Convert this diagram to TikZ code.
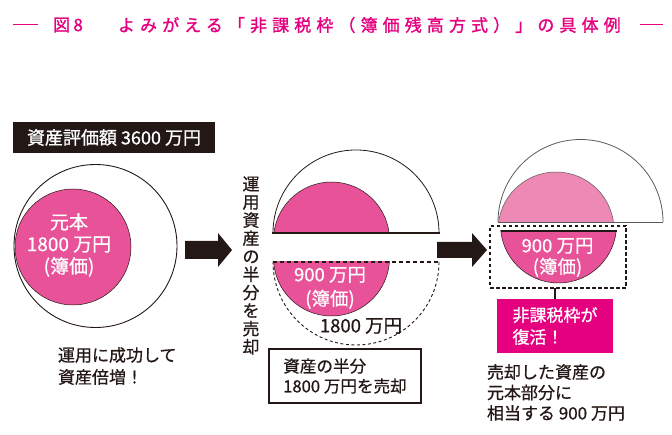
\documentclass[tikz,border=0pt]{standalone}
\usepackage{fontspec}
\setmainfont{Noto Sans CJK JP}[FakeBold=0.7]
\newfontfamily\titlefont{Noto Sans CJK JP}[LetterSpace=30,FakeBold=1.4]
\newfontfamily\figfont{Noto Sans CJK JP}[LetterSpace=20,FakeBold=1.4]
\newfontfamily\boxfont{Noto Sans CJK JP}[FakeBold=1.0]
\definecolor{mag}{HTML}{E4007F}
\definecolor{pk}{HTML}{E85298}
\definecolor{lpk}{HTML}{EE88B5}
\definecolor{ink}{HTML}{231815}
\definecolor{gry}{HTML}{5A5A5A}
\begin{document}
\begin{tikzpicture}[x=1pt,y=-1pt,
  every node/.style={inner sep=0pt, outer sep=0pt},
  lbl/.style={text=ink, align=left, font=\fontsize{17}{21}\selectfont},
  wlbl/.style={text=white, align=center},
  pinkseg/.style={fill=pk, draw=ink, line width=0.5pt},
  bigarrow/.style={fill=ink}]
\useasboundingbox (0,0) rectangle (672,435);

% title
\coordinate (dl1) at (13,25); \coordinate (dl2) at (38,25);
\coordinate (dr1) at (640,25); \coordinate (dr2) at (663,25);
\draw[mag, line width=1pt] (dl1) -- (dl2);
\draw[mag, line width=1pt] (dr1) -- (dr2);
\node[anchor=west, text=mag, font=\figfont\fontsize{17}{17}\selectfont] (fig) at (53,25) {図8};
\node[anchor=west, text=mag, font=\titlefont\fontsize{17}{17}\selectfont] (title) at (118,25) {よみがえる「非課税枠（簿価残高方式）」の具体例};

% panel 1
\node[fill=ink, text=white, minimum width=202pt, minimum height=31pt, font=\boxfont\fontsize{18}{18}\selectfont] (value) at (114,137.5) {資産評価額 3600 万円};
\draw[ink, line width=0.9pt] (95.5,246) circle[radius=81.5];
\filldraw[pinkseg] (73,247) circle[radius=58];
\node[wlbl, font=\fontsize{19}{22}\selectfont] (c1text) at (69,245) {元本\\1800 万円\\(簿価)};
\node[lbl, anchor=west, font=\fontsize{17}{22}\selectfont] (success) at (58,366) {運用に成功して\\資産倍増！};

% arrow 1
\fill[bigarrow] (185,241) -- (218,241) -- (218,233) -- (232,250) -- (218,267) -- (218,259) -- (185,259) -- cycle;

% vertical text
\node[text=ink, align=center, font=\fontsize{17}{18.1}\selectfont] (vert) at (251,265.5) {運\\用\\資\\産\\の\\半\\分\\を\\売\\却};

% panel 2 upper
\begin{scope}
\clip (260,140) rectangle (450,233);
\filldraw[pinkseg] (331.5,240) circle[radius=58];
\end{scope}
\draw[ink, line width=0.8pt] (273,233) arc[start angle=180, end angle=360, radius=83];
\draw[ink, line width=1.6pt] (272,233) -- (440,233);

% panel 2 lower
\begin{scope}
\clip (260,262) rectangle (450,350);
\filldraw[pinkseg] (331.5,258) circle[radius=58];
\end{scope}
\draw[ink, line width=0.9pt, dash pattern=on 3pt off 2.5pt] (439,262) arc[start angle=0, end angle=180, radius=83];
\draw[ink, line width=1.4pt, dash pattern=on 4pt off 3pt] (273,262) -- (439,262);
\node[wlbl, font=\fontsize{18.5}{24}\selectfont] (c2text) at (330,288) {900 万円\\(簿価)};
\node[text=ink, font=\fontsize{18.5}{18.5}\selectfont] (sold) at (361,326) {1800 万円};
\node[draw=ink, line width=1.5pt, lbl, inner xsep=5.5pt, inner ysep=6pt, minimum width=152pt, minimum height=54pt, font=\fontsize{16.6}{20}\selectfont] (sellbox) at (345,376) {資産の半分\\1800 万円を売却};

% arrow 2
\fill[bigarrow] (437,242) -- (472,242) -- (472,233) -- (487,250) -- (472,267) -- (472,258) -- (437,258) -- cycle;

% panel 3 upper
\begin{scope}
\clip (480,130) rectangle (670,222);
\filldraw[fill=lpk, draw=gry, line width=0.5pt] (556,230) circle[radius=58];
\end{scope}
\draw[gry, line width=0.8pt] (498,222) arc[start angle=180, end angle=360, radius=82.5];
\draw[gry, line width=0.8pt] (498,222) -- (663,222);

% panel 3 lower
\begin{scope}
\clip (480,231) rectangle (670,300);
\filldraw[pinkseg] (558.5,225) circle[radius=58];
\end{scope}
\draw[ink, line width=1.2pt] (500.5,231) -- (616.5,231);
\node[wlbl, font=\fontsize{18.5}{21}\selectfont] (c3text) at (557.5,257.5) {900 万円\\(簿価)};
\node[draw=ink, line width=1.2pt, dash pattern=on 3.5pt off 2.5pt, minimum width=136pt, minimum height=62pt] (restored) at (558,257) {};
\node[fill=mag, text=white, align=left, minimum width=116pt, minimum height=54pt, font=\boxfont\fontsize{17}{22}\selectfont] (revive) at (555,326) {非課税枠が\\復活！};
\draw[ink, line width=1.2pt] (restored.south -| revive.north) -- (revive.north);
\node[lbl, anchor=west, font=\fontsize{17}{20.5}\selectfont] (explain) at (487,392.5) {売却した資産の\\元本部分に\\相当する 900 万円};
\end{tikzpicture}
\end{document}
